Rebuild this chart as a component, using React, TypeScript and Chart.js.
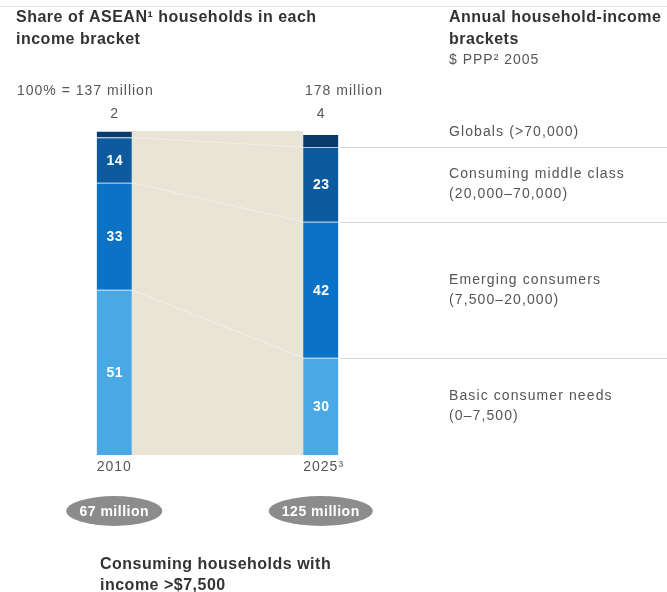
import React, { useEffect, useRef } from "react";
import { Chart, registerables } from "chart.js";

Chart.register(...registerables);

const categories = ["2010", "2025³"];
const globals = [2, 4];
const middleClass = [14, 23];
const emerging = [33, 42];
const basic = [51, 30];
const totalLabels = ["100% = 137 million", "178 million"];
const consumingLabels = ["67 million", "125 million"];
const bracketNames = [
  ["Globals (>70,000)"],
  ["Consuming middle class", "(20,000–70,000)"],
  ["Emerging consumers", "(7,500–20,000)"],
  ["Basic consumer needs", "(0–7,500)"],
];

const COLORS = {
  globals: "#0b3a6c",
  middle: "#0e5a9e",
  emerging: "#0b72c5",
  basic: "#4aa9e4",
};

const FONT = "'Liberation Sans', Arial, sans-serif";

function setFont(ctx: any, font: string, spacing: number) {
  ctx.font = font;
  ctx.letterSpacing = spacing + "px";
}

const decorPlugin = {
  id: "decor",
  beforeDatasetsDraw(chart: any) {
    const ctx = chart.ctx;
    const y = chart.scales.y;
    const m0 = chart.getDatasetMeta(0);
    const b0 = m0.data[0];
    const b1 = m0.data[1];
    const x0 = b0.x + b0.width / 2;
    const x1 = b1.x - b1.width / 2;
    ctx.save();
    ctx.fillStyle = "#e8e5d6";
    ctx.fillRect(x0, y.getPixelForValue(100), x1 - x0, y.getPixelForValue(0) - y.getPixelForValue(100));
    const cum0 = [basic[0], basic[0] + emerging[0], basic[0] + emerging[0] + middleClass[0]];
    const cum1 = [basic[1], basic[1] + emerging[1], basic[1] + emerging[1] + middleClass[1]];
    ctx.strokeStyle = "rgba(255,255,255,0.4)";
    ctx.lineWidth = 1;
    for (let i = 0; i < 3; i++) {
      ctx.beginPath();
      ctx.moveTo(x0, y.getPixelForValue(cum0[i]));
      ctx.lineTo(x1, y.getPixelForValue(cum1[i]));
      ctx.stroke();
    }
    ctx.restore();
  },
  afterDraw(chart: any) {
    const ctx = chart.ctx;
    const y = chart.scales.y;
    const W = chart.width;
    const metas = [0, 1, 2, 3].map((i) => chart.getDatasetMeta(i));
    const bars = metas[0].data;
    ctx.save();

    ctx.strokeStyle = "#e6e6e6";
    ctx.lineWidth = 1;
    ctx.beginPath();
    ctx.moveTo(0, 6.5);
    ctx.lineTo(W, 6.5);
    ctx.stroke();

    // headings
    ctx.fillStyle = "#333";
    ctx.textBaseline = "middle";
    ctx.textAlign = "left";
    setFont(ctx, `bold 16px ${FONT}`, 0.5);
    ctx.fillText("Share of ASEAN¹ households in each", 16, 18);
    ctx.fillText("income bracket", 16, 40);
    ctx.fillText("Annual household-income", 449, 18);
    ctx.fillText("brackets", 449, 40);
    setFont(ctx, `14px ${FONT}`, 1);
    ctx.fillStyle = "#555";
    ctx.fillText("$ PPP² 2005", 449, 60);

    ctx.fillText(totalLabels[0], 17, 91);
    ctx.fillText(totalLabels[1], 305, 91);

    bars.forEach((b: any, i: number) => {
      ctx.fillStyle = "#555";
      setFont(ctx, `14px ${FONT}`, 0);
      ctx.textAlign = "center";
      ctx.fillText(String(globals[i]), b.x, 114);
      setFont(ctx, `14px ${FONT}`, 1);
      ctx.textAlign = "left";
      ctx.fillText(categories[i], b.x - b.width / 2, 467);
    });

    // in-bar labels
    ctx.textAlign = "center";
    ctx.fillStyle = "#fff";
    setFont(ctx, `bold 14px ${FONT}`, 0.5);
    const vals = [basic, emerging, middleClass];
    for (let d = 0; d < 3; d++) {
      metas[d].data.forEach((el: any, i: number) => {
        const cy = (el.y + el.base) / 2;
        ctx.fillText(String(vals[d][i]), el.x + 0.5, cy + 1);
      });
    }

    // ellipses
    const rx = [48, 52];
    bars.forEach((b: any, i: number) => {
      ctx.fillStyle = "#8c8c8c";
      ctx.beginPath();
      ctx.ellipse(b.x, 511, rx[i], 15, 0, 0, Math.PI * 2);
      ctx.fill();
      ctx.fillStyle = "#fff";
      setFont(ctx, `bold 14px ${FONT}`, 0.5);
      ctx.fillText(consumingLabels[i], b.x, 512);
    });

    // right side rules and labels
    const b1 = bars[1];
    const xr = b1.x + b1.width / 2 + 2;
    const c = [0, basic[1], basic[1] + emerging[1], basic[1] + emerging[1] + middleClass[1], 100];
    ctx.strokeStyle = "#d4d4d4";
    ctx.lineWidth = 1.2;
    for (let k = 1; k <= 3; k++) {
      const py = Math.round(y.getPixelForValue(c[k])) + 0.5;
      ctx.beginPath();
      ctx.moveTo(xr, py);
      ctx.lineTo(W, py);
      ctx.stroke();
    }
    ctx.textAlign = "left";
    ctx.fillStyle = "#555";
    setFont(ctx, `14px ${FONT}`, 1.1);
    for (let j = 0; j < 4; j++) {
      const hi = c[4 - j];
      const lo = c[3 - j];
      let cy = (y.getPixelForValue(hi) + y.getPixelForValue(lo)) / 2;
      const lines = bracketNames[j];
      if (j === 0) cy -= 7;
      const lh = 20;
      lines.forEach((t, li) => {
        ctx.fillText(t, 449, cy + (li - (lines.length - 1) / 2) * lh);
      });
    }

    // bottom caption
    ctx.fillStyle = "#333";
    setFont(ctx, `bold 16px ${FONT}`, 0.5);
    ctx.fillText("Consuming households with", 100, 565);
    ctx.fillText("income >$7,500", 100, 586);
    ctx.restore();
  },
};

export default function App() {
  const ref = useRef<HTMLCanvasElement>(null);
  useEffect(() => {
    if (!ref.current) return;
    const chart = new Chart(ref.current, {
      type: "bar",
      data: {
        labels: categories,
        datasets: [
          { label: "Basic consumer needs", data: basic, backgroundColor: COLORS.basic },
          { label: "Emerging consumers", data: emerging, backgroundColor: COLORS.emerging },
          { label: "Consuming middle class", data: middleClass, backgroundColor: COLORS.middle },
          { label: "Globals", data: globals, backgroundColor: COLORS.globals },
        ].map((d) => ({
          ...d,
          barThickness: 35,
          borderColor: "rgba(255,255,255,0.35)",
          borderWidth: { top: 1, bottom: 0, left: 0, right: 0 },
          borderSkipped: false,
        })),
      },
      options: {
        animation: false,
        responsive: true,
        maintainAspectRatio: false,
        layout: { padding: { top: 131, bottom: 137, left: 11, right: 243 } },
        plugins: { legend: { display: false }, tooltip: { enabled: false } },
        scales: {
          x: { stacked: true, display: false, offset: true },
          y: { stacked: true, display: false, min: 0, max: 100 },
        },
      },
      plugins: [decorPlugin],
    });
    return () => chart.destroy();
  }, []);
  return (
    <div style={{ position: "fixed", left: 0, top: 0, width: 667, height: 592, background: "#fff" }}>
      <canvas ref={ref} />
    </div>
  );
}
